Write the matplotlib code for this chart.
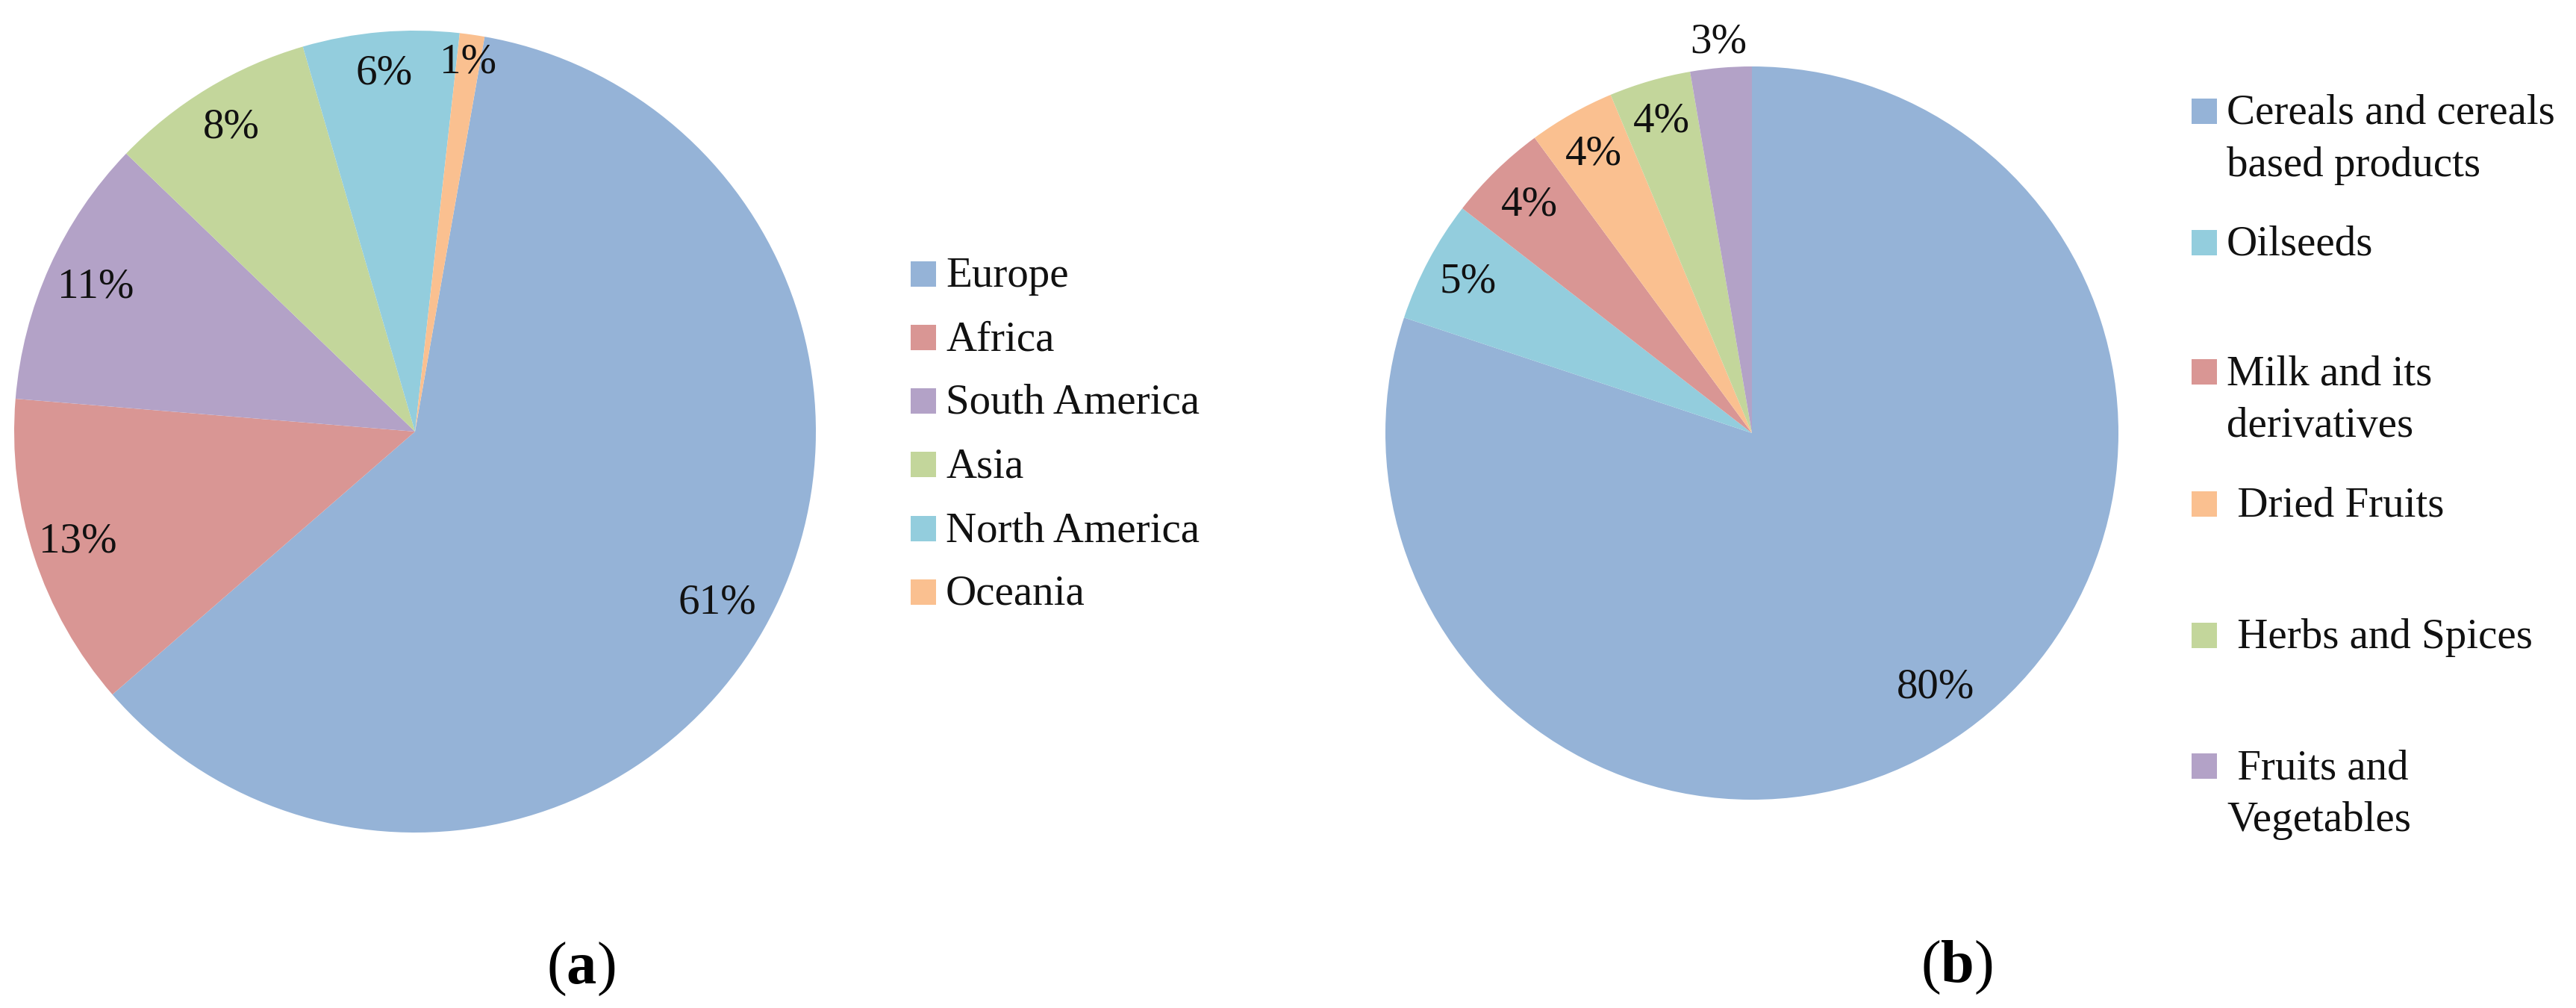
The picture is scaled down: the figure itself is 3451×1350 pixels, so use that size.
import matplotlib
matplotlib.use('Agg')
import matplotlib.pyplot as plt
from matplotlib.patches import Rectangle
import numpy as np

# ── Config ────────────────────────────────────────────────────────────────
W, H, DPI = 3451, 1350, 100
FS = 41
plt.rcParams['font.family'] = ['Liberation Serif', 'DejaVu Serif']
plt.rcParams['mathtext.fontset'] = 'custom'
plt.rcParams['mathtext.rm'] = 'Liberation Serif'
plt.rcParams['mathtext.bf'] = 'Liberation Serif:bold'

# ── Data ──────────────────────────────────────────────────────────────────
REGIONS = ['Europe', 'Africa', 'South America', 'Asia', 'North America', 'Oceania']
REGION_SHARE = [60.9, 12.7, 10.9, 8.3, 6.3, 1.0]
REGION_COLORS = ['#95B3D7', '#D99694', '#B3A2C7', '#C3D69B', '#93CDDD', '#FAC090']

FOODS = ['Cereals and cereals\nbased products', 'Oilseeds', 'Milk and its\nderivatives',
         ' Dried Fruits', ' Herbs and Spices', ' Fruits and\nVegetables']
FOOD_SHARE = [80.1, 5.4, 4.4, 3.8, 3.6, 2.7]
FOOD_COLORS = ['#95B3D7', '#93CDDD', '#D99694', '#FAC090', '#C3D69B', '#B3A2C7']

fig = plt.figure(figsize=(W / DPI, H / DPI), dpi=DPI)


def draw_pie(cx, cy, r, shares, colors, start, label_r):
    ax = fig.add_axes([(cx - r) / W, (H - cy - r) / H, 2 * r / W, 2 * r / H])
    wedges, _ = ax.pie(shares, colors=colors, startangle=start, counterclock=False,
                       radius=1, wedgeprops={'linewidth': 0})
    for w, v, lr in zip(wedges, shares, label_r):
        mid = np.deg2rad((w.theta1 + w.theta2) / 2)
        ax.text(lr * np.cos(mid), lr * np.sin(mid), f'{v:.0f}%',
                ha='center', va='center', fontsize=FS, color='#111111')
    ax.set_xlim(-1, 1); ax.set_ylim(-1, 1)
    ax.axis('off')
    return ax


def draw_legend(x_patch, y_centers, labels, colors, line_h=70):
    for yc, lab, col in zip(y_centers, labels, colors):
        fig.patches.append(Rectangle((x_patch / W, (H - yc - 17) / H), 34 / W, 34 / H,
                                     transform=fig.transFigure, color=col, lw=0))
        for i, line in enumerate(lab.split('\n')):
            fig.text((x_patch + 47) / W, (H - (yc + 17 + i * line_h)) / H, line,
                     va='baseline', ha='left', fontsize=FS, color='#111111')


# (a) origin by region
draw_pie(556, 578, 537, REGION_SHARE, REGION_COLORS, 80,
         [0.866, 0.885, 0.874, 0.886, 0.897, 0.93])
draw_legend(1220, [367, 452, 537, 622, 708, 793], REGIONS, REGION_COLORS)

# (b) food category
draw_pie(2347, 580, 491, FOOD_SHARE, FOOD_COLORS, 90,
         [0.855, 0.878, 0.87, 0.875, 0.885, 1.07])
draw_legend(2936, [149, 325, 498, 675, 851, 1026], FOODS, FOOD_COLORS)

fig.text(778 / W, (H - 1298) / H, r'($\mathbf{a}$)', ha='center', va='center', fontsize=58)
fig.text(2621 / W, (H - 1296) / H, r'($\mathbf{b}$)', ha='center', va='center', fontsize=58)

fig.savefig('out.png', dpi=DPI, facecolor='white')
